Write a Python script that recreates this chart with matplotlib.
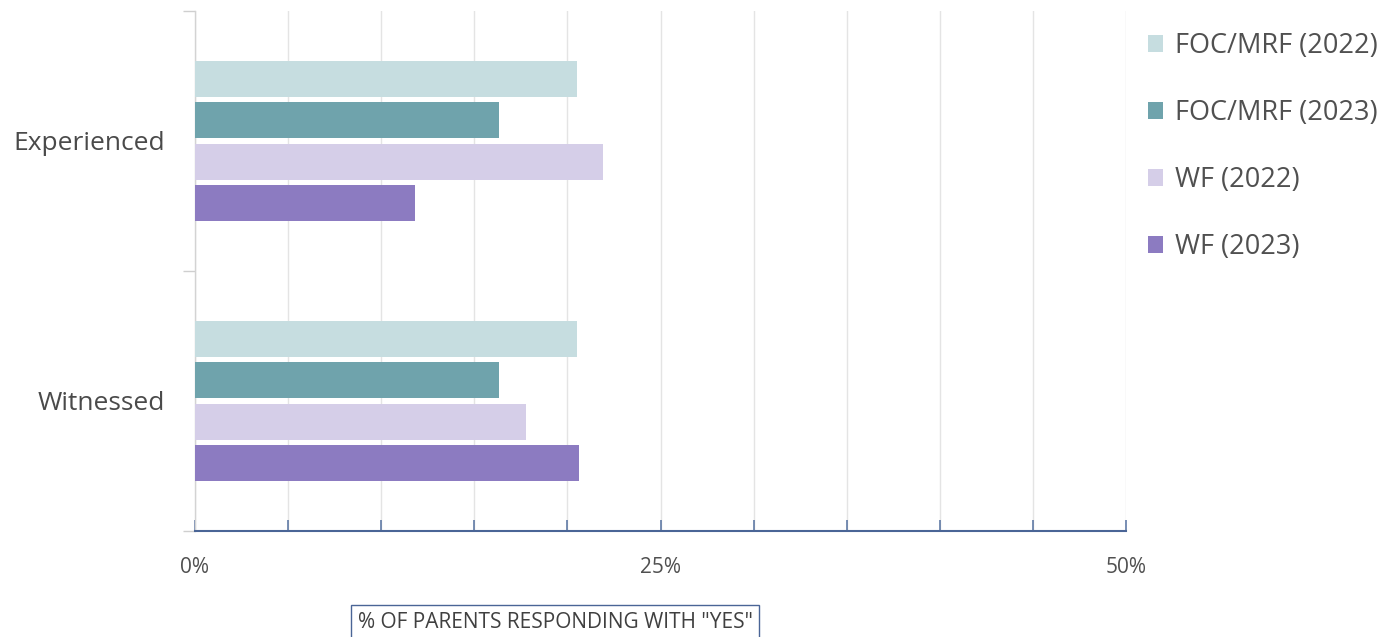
import matplotlib
matplotlib.use("Agg")
import matplotlib.pyplot as plt
import numpy as np

# Survey results: share of parents answering "yes"
categories = ["Experienced", "Witnessed"]
series_names = ["FOC/MRF (2022)", "FOC/MRF (2023)", "WF (2022)", "WF (2023)"]
foc_mrf_2022 = [20.5, 20.5]
foc_mrf_2023 = [16.3, 16.3]
wf_2022 = [21.9, 17.8]
wf_2023 = [11.8, 20.6]
series_values = [foc_mrf_2022, foc_mrf_2023, wf_2022, wf_2023]
series_colors = ["#C6DDE0", "#6FA3AC", "#D5CEE8", "#8C7BC1"]
tick_values = [0, 25, 50]
tick_labels = ["0%", "25%", "50%"]

plt.rcParams["font.family"] = ["Open Sans", "DejaVu Sans"]

W, H = 1391, 637
fig = plt.figure(figsize=(W / 100, H / 100), dpi=100)
ax = fig.add_axes([195 / W, 1 - 531 / H, (1126 - 195) / W, (531 - 11) / H])

step = 0.16
height = 0.138
y_cat = np.arange(len(categories))
for j, (name, vals, col) in enumerate(zip(series_names, series_values, series_colors)):
    ax.barh(y_cat + (j - 1.5) * step, vals, height=height, color=col, label=name, zorder=3)

ax.set_xlim(0, 50)
ax.set_ylim(1.5, -0.5)

# x axis: ticks every 5%, labels at 0/25/50
major = np.arange(0, 51, 5)
ax.set_xticks(major)
ax.set_xticklabels([tick_labels[tick_values.index(v)] if v in tick_values else "" for v in major])
ax.tick_params(axis="x", direction="in", length=8, width=1.1, color="#5470A0",
               labelsize=15, labelcolor="#505050", pad=19)
ax.xaxis.grid(True, color="#E4E4E4", linewidth=1, zorder=0)

# y axis: category boundaries as ticks, labels at centers
ax.set_yticks([-0.5, 0.5, 1.5])
ax.set_yticklabels([])
ax.set_yticks(y_cat, minor=True)
ax.set_yticklabels(categories, minor=True)
ax.tick_params(axis="y", which="major", direction="out", length=9, width=1, color="#CFCFCF")
ax.tick_params(axis="y", which="minor", length=0, labelsize=19, labelcolor="#4A4A4A", pad=21.6)

for s in ["top", "right"]:
    ax.spines[s].set_visible(False)
ax.spines["left"].set_color("#D3D3D3")
ax.spines["left"].set_linewidth(1)
ax.spines["bottom"].set_color("#4A6596")
ax.spines["bottom"].set_linewidth(1.5)
ax.spines["bottom"].set_zorder(4)

leg = fig.legend(loc="upper left", bbox_to_anchor=(1148 / W, 1 - 32 / H), frameon=False,
                 fontsize=19.5, labelspacing=1.44, handlelength=0.55, handleheight=0.55,
                 handletextpad=0.45, borderaxespad=0, borderpad=0)
for t in leg.get_texts():
    t.set_color("#505050")

fig.text(555 / W, 1 - 622 / H, '% OF PARENTS RESPONDING WITH "YES"', ha="center", va="center",
         fontsize=15, color="#404040",
         bbox=dict(boxstyle="square,pad=0.3", facecolor="white", edgecolor="#4A6596", linewidth=1))

fig.savefig("out.png", dpi=100, facecolor="white")
